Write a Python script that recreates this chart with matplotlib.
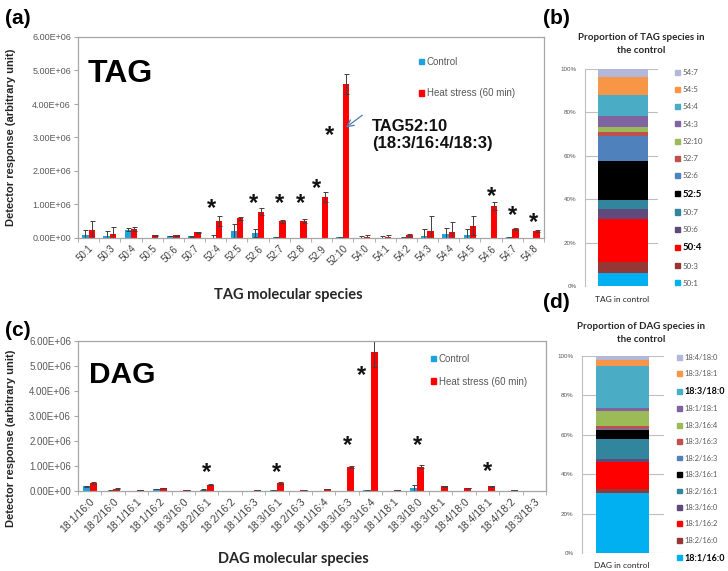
import matplotlib
matplotlib.use('Agg')
import matplotlib.pyplot as plt
import numpy as np
from matplotlib.patches import Patch

plt.rcParams['font.family'] = ['Liberation Sans', 'DejaVu Sans']

# ---------------- data ----------------
tag_species = ['50:1', '50:3', '50:4', '50:5', '50:6', '50:7', '52:4', '52:5', '52:6', '52:7', '52:8',
               '52:9', '52:10', '54:0', '54:1', '54:2', '54:3', '54:4', '54:5', '54:6', '54:7', '54:8']
tag_control = [0.08, 0.07, 0.25, 0.0, 0.06, 0.05, 0.01, 0.20, 0.15, 0.02, 0.0,
               0.0, 0.02, 0.01, 0.01, 0.01, 0.07, 0.11, 0.10, 0.0, 0.02, 0.0]
tag_control_err = [0.16, 0.15, 0.05, 0.0, 0.01, 0.01, 0.07, 0.22, 0.12, 0.01, 0.0,
                   0.0, 0.01, 0.06, 0.05, 0.01, 0.20, 0.18, 0.17, 0.0, 0.01, 0.0]
tag_heat = [0.24, 0.12, 0.27, 0.08, 0.08, 0.17, 0.51, 0.59, 0.79, 0.50, 0.50,
            1.21, 4.60, 0.02, 0.02, 0.08, 0.20, 0.17, 0.37, 0.96, 0.26, 0.21]
tag_heat_err = [0.27, 0.21, 0.06, 0.02, 0.01, 0.02, 0.16, 0.05, 0.10, 0.05, 0.06,
                0.15, 0.30, 0.08, 0.07, 0.05, 0.45, 0.31, 0.29, 0.11, 0.03, 0.02]
tag_star_species = ['52:4', '52:6', '52:7', '52:8', '52:9', '52:10', '54:6', '54:7', '54:8']
tag_star_y = [0.89, 1.04, 1.04, 1.04, 1.49, 3.07, 1.24, 0.66, 0.45]

dag_species = ['18:1/16:0', '18:2/16:0', '18:1/16:1', '18:1/16:2', '18:3/16:0', '18:2/16:1', '18:2/16:2',
               '18:1/16:3', '18:3/16:1', '18:2/16:3', '18:1/16:4', '18:3/16:3', '18:3/16:4', '18:1/18:1',
               '18:3/18:0', '18:3/18:1', '18:4/18:0', '18:4/18:1', '18:4/18:2', '18:3/18:3']
dag_control = [0.20, 0.02, 0.0, 0.09, 0.01, 0.06, 0.0, 0.0, 0.03, 0.0, 0.01, 0.01, 0.03, 0.01,
               0.12, 0.01, 0.01, 0.01, 0.0, 0.01]
dag_control_err = [0.02, 0.01, 0.0, 0.01, 0.0, 0.01, 0.0, 0.0, 0.01, 0.0, 0.0, 0.0, 0.01, 0.0,
                   0.11, 0.0, 0.0, 0.0, 0.0, 0.0]
dag_heat = [0.33, 0.10, 0.05, 0.13, 0.04, 0.25, 0.01, 0.05, 0.32, 0.03, 0.08, 0.96, 5.57, 0.03,
            0.97, 0.20, 0.13, 0.20, 0.05, 0.02]
dag_heat_err = [0.03, 0.01, 0.01, 0.01, 0.01, 0.02, 0.0, 0.01, 0.03, 0.0, 0.01, 0.03, 0.60, 0.0,
                0.06, 0.02, 0.01, 0.02, 0.0, 0.0]
dag_star_species = ['18:2/16:1', '18:3/16:1', '18:3/16:3', '18:3/16:4', '18:3/18:0', '18:4/18:1']
dag_star_y = [0.73, 0.73, 1.80, 4.63, 1.80, 0.77]

ytick_labels = ['0.00E+00', '1.00E+06', '2.00E+06', '3.00E+06', '4.00E+06', '5.00E+06', '6.00E+06']

tagp_species = ['50:1', '50:3', '50:4', '50:6', '50:7', '52:5', '52:6', '52:7', '52:10', '54:3', '54:4', '54:5', '54:7']
tagp_values = [5.8, 5.1, 20.0, 4.5, 4.3, 17.7, 11.7, 2.0, 2.1, 5.2, 9.4, 8.5, 3.7]
tagp_bold = ['50:4', '52:5']

dagp_species = ['18:1/16:0', '18:2/16:0', '18:1/16:2', '18:3/16:0', '18:2/16:1', '18:3/16:1', '18:2/16:3',
                '18:3/16:3', '18:3/16:4', '18:1/18:1', '18:3/18:0', '18:3/18:1', '18:4/18:0']
dagp_values = [30.3, 2.4, 13.6, 1.4, 10.2, 4.6, 0.3, 1.8, 7.5, 1.3, 21.6, 2.9, 2.5]
dagp_bold = ['18:3/18:0', '18:1/16:0']

stack_colors = ['#00B0F0', '#953735', '#FF0000', '#604A7B', '#31859C', '#000000', '#4F81BD',
                '#C0504D', '#9BBB59', '#8064A2', '#4BACC6', '#F79646', '#B3B8DB']

C_CTRL = '#1CA3DE'
C_HEAT = '#FF0000'
GRAY = '#595959'
SPINE = '#A6A6A6'

W, H = 728, 571
fig = plt.figure(figsize=(W / 100, H / 100), dpi=100)


def px_axes(x0, y0, x1, y1):
    return fig.add_axes([x0 / W, 1 - y1 / H, (x1 - x0) / W, (y1 - y0) / H])


def bar_panel(ax, species, ctrl, ctrl_err, heat, heat_err, star_sp, star_y, big, big_xy, big_fs,
              tick_fs, ytick_fs, star_shift, leg_anchor, leg_spacing):
    n = len(species)
    x = np.arange(n)
    w = 0.3
    ek = dict(ecolor='#404040', elinewidth=0.7, capsize=1.8, capthick=0.7)
    ax.bar(x - w / 2, np.array(ctrl) * 1e6, w, yerr=np.array(ctrl_err) * 1e6, color=C_CTRL,
           error_kw=ek, label='Control')
    ax.bar(x + w / 2, np.array(heat) * 1e6, w, yerr=np.array(heat_err) * 1e6, color=C_HEAT,
           error_kw=ek, label='Heat stress (60 min)')
    ax.set_xlim(-0.5, n - 0.5)
    ax.set_ylim(0, 6e6)
    ax.set_yticks(np.arange(7) * 1e6)
    ax.set_yticklabels(ytick_labels, fontsize=ytick_fs, color=GRAY)
    ax.set_xticks(x)
    ax.set_xticklabels(species, rotation=45, ha='right', rotation_mode='anchor',
                       fontsize=tick_fs, color='#404040')
    ax.set_xticks(np.arange(n + 1) - 0.5, minor=True)
    ax.tick_params(axis='x', which='major', length=0, pad=4)
    ax.tick_params(axis='x', which='minor', length=3, color=SPINE)
    ax.tick_params(axis='y', length=3, color=SPINE, pad=2)
    for s in ax.spines.values():
        s.set_color(SPINE)
        s.set_linewidth(0.9)
    for sp, sy in zip(star_sp, star_y):
        i = species.index(sp)
        dx = star_shift.get(sp, 0.0)
        ax.text(i + dx, sy * 1e6, '*', fontsize=17, fontweight='bold', ha='center', va='center',
                color='#111111')
    ax.text(big_xy[0], big_xy[1], big, transform=ax.transAxes, fontsize=big_fs, fontweight='bold',
            va='baseline', ha='left', color='black')
    handles = [Patch(color=C_CTRL), Patch(color=C_HEAT)]
    leg = ax.legend(handles, ['Control', 'Heat stress (60 min)'], loc='upper left',
                    bbox_to_anchor=leg_anchor, bbox_transform=fig.transFigure, frameon=False,
                    fontsize=7, handlelength=0.55, handleheight=0.55, handletextpad=0.25,
                    labelspacing=leg_spacing, borderpad=0, borderaxespad=0)
    for t in leg.get_texts():
        t.set_color(GRAY)
    ax.set_ylabel('Detector response (arbitrary unit)', fontsize=8, fontweight='bold', color='#262626')


# ---------------- panel (a) ----------------
axa = px_axes(78, 37, 544, 238)
bar_panel(axa, tag_species, tag_control, tag_control_err, tag_heat, tag_heat_err,
          tag_star_species, tag_star_y, 'TAG', (0.021, 0.776), 23, 7, 6.5,
          {'52:10': -0.65, '52:4': -0.18, '52:6': -0.22, '52:9': -0.24}, (419 / W, 1 - 57 / H), 2.2)
axa.yaxis.set_label_coords(-(78 - 16) / 466, 0.5)
axa.set_xlabel('TAG molecular species', family=['Lato', 'DejaVu Sans'], fontsize=10.5,
               fontweight='bold', color='#262626')
axa.xaxis.set_label_coords((288 - 78) / 466, (238 - 288) / 201)
axa.annotate('TAG52:10\n(18:3/16:4/18:3)', xy=(12.15, 3.3e6), xycoords='data',
             xytext=((372 - 78) / 466, (238 - 119) / 201), textcoords='axes fraction',
             fontsize=12, fontweight='bold', va='top', ha='left', color='#111111', linespacing=1.15,
             arrowprops=dict(arrowstyle='->', color='#4A7EBB', lw=0.9, shrinkA=0, shrinkB=0,
                             relpos=(-0.08, 1.12)))

# ---------------- panel (c) ----------------
axc = px_axes(78, 341, 546, 491)
bar_panel(axc, dag_species, dag_control, dag_control_err, dag_heat, dag_heat_err,
          dag_star_species, dag_star_y, 'DAG', (0.0235, 0.72), 21.5, 7.5, 7,
          {'18:3/16:4': -0.38}, (431 / W, 1 - 354 / H), 1.3)
axc.yaxis.set_label_coords(-(78 - 16) / 468, 0.35)
axc.set_xlabel('DAG molecular species', family=['Lato', 'DejaVu Sans'], fontsize=10.5,
               fontweight='bold', color='#262626')
axc.xaxis.set_label_coords((293 - 78) / 468, (491 - 552) / 150)


# ---------------- stacked panels ----------------
def stack_panel(ax, species, values, bold, xc, bw, title, title_y, xlabel, xlabel_y, leg_anchor,
                leg_fs, leg_bold_fs, leg_spacing):
    bottom = 0.0
    handles = []
    for sp, v, c in zip(species, values, stack_colors):
        ax.bar([xc], [v], bw, bottom=bottom, color=c, zorder=3)
        bottom += v
        handles.append(Patch(color=c))
    ax.set_xlim(0, 1)
    ax.set_ylim(0, 100)
    ax.set_yticks(np.arange(0, 101, 20))
    ax.set_yticklabels([f'{v}%' for v in range(0, 101, 20)], fontsize=4.5, color=GRAY)
    ax.yaxis.grid(True, color='#BFBFBF', lw=0.8, zorder=0)
    ax.set_axisbelow(True)
    ax.set_xticks([])
    ax.tick_params(axis='y', length=0, pad=6)
    for k in ['top', 'right', 'bottom']:
        ax.spines[k].set_visible(False)
    ax.spines['left'].set_color('#BFBFBF')
    leg = ax.legend(handles[::-1], species[::-1], loc='upper left', bbox_to_anchor=leg_anchor,
                    bbox_transform=fig.transFigure, frameon=False,
                    handlelength=0.6, handleheight=0.6, handletextpad=0.4, labelspacing=leg_spacing,
                    borderpad=0, borderaxespad=0, prop={'family': ['Lato', 'DejaVu Sans'], 'size': leg_fs})
    for t in leg.get_texts():
        if t.get_text() in bold:
            t.set_fontweight('bold')
            t.set_fontsize(leg_bold_fs)
            t.set_color('black')
        else:
            t.set_color(GRAY)
    fig.text(641 / W, 1 - title_y / H, title, fontsize=7, fontweight='bold', ha='center', va='center',
             family=['Lato', 'DejaVu Sans'], color='#262626', linespacing=1.5)
    fig.text(622 / W, 1 - xlabel_y / H, xlabel, fontsize=6, ha='center', va='center',
             family=['Lato', 'DejaVu Sans'], color='#262626')


axb = px_axes(585, 69, 658, 286)
stack_panel(axb, tagp_species, tagp_values, tagp_bold, 0.52, 0.685,
            'Proportion of TAG species in\nthe control', 44, 'TAG in control', 300,
            (675 / W, 1 - 69 / H), 5.8, 7, 1.27)

axd = px_axes(582, 356, 664, 553)
stack_panel(axd, dagp_species, dagp_values, dagp_bold, 0.494, 0.646,
            'Proportion of DAG species in\nthe control', 333, 'DAG in control', 566,
            (677 / W, 1 - 354 / H), 5.4, 6.5, 1.26)

# panel letters
for lab, (x, y) in {'(a)': (5, 19), '(b)': (543, 18), '(c)': (5, 331), '(d)': (543, 303)}.items():
    fig.text(x / W, 1 - y / H, lab, fontsize=15, fontweight='bold', ha='left', va='center', color='black')

fig.savefig('out.png', dpi=100)
